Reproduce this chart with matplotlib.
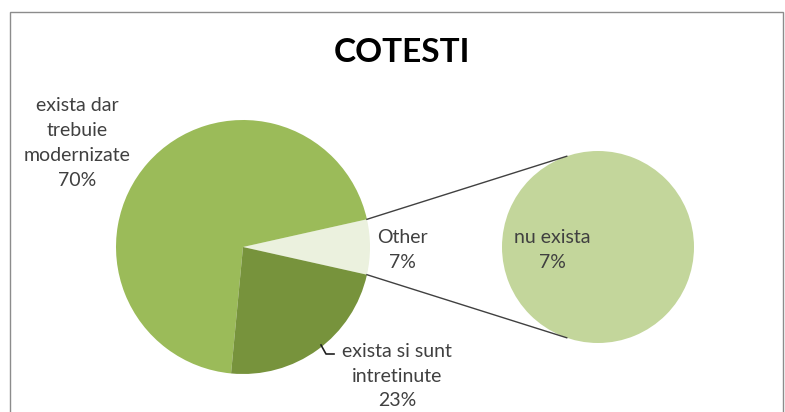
import numpy as np
import matplotlib.pyplot as plt
from matplotlib.patches import Rectangle

plt.rcParams['font.family'] = ['Lato', 'DejaVu Sans']

# main pie (order: Other first, drawn counter-clockwise from the right)
main_labels = ['Other\n7%', 'exista dar\ntrebuie\nmodernizate\n70%', 'exista si sunt\nintretinute\n23%']
main_values = [7, 70, 23]
main_colors = ['#EBF1DE', '#9BBB59', '#77933C']

# secondary pie (breakdown of "Other")
sec_labels = ['nu exista\n7%']
sec_values = [7]
sec_colors = ['#C3D69B']

W, H = 785, 412
fig = plt.figure(figsize=(W / 100, H / 100), dpi=100)
ax = fig.add_axes([0, 0, 1, 1])

# chart frame
ax.add_patch(Rectangle((10, -20), 773, H - 12 + 20, fill=False, edgecolor='#8c8c8c', lw=1))

c1, r1 = (243, H - 247), 127
c2, r2 = (598, H - 247), 96
other_half = main_values[0] / sum(main_values) * 360 / 2

ax.pie(main_values, colors=main_colors, startangle=-other_half, counterclock=True,
       center=c1, radius=r1, wedgeprops=dict(linewidth=0), frame=True)
ax.pie(sec_values, colors=sec_colors, startangle=90, center=c2, radius=r2,
       wedgeprops=dict(linewidth=0), frame=True)
ax.set_xlim(0, W)
ax.set_ylim(0, H)
ax.set_aspect('equal')
ax.axis('off')

# connector lines
for sgn in (1, -1):
    a1 = np.radians(sgn * other_half)
    a2 = np.radians(sgn * 109)
    ax.plot([c1[0] + r1 * np.cos(a1), c2[0] + r2 * np.cos(a2)],
            [c1[1] + r1 * np.sin(a1), c2[1] + r2 * np.sin(a2)],
            color='#404040', lw=1)

# leader for the 23% label
ax.plot([321, 326, 334], [H - 345, H - 354, H - 354], color='#202020', lw=1.2)

txt = dict(ha='center', va='center', fontsize=14, color='#404040', linespacing=1.55)
ax.text(77, H - 143, main_labels[1], **txt)
ax.text(402, H - 250, main_labels[0], **txt)
ax.text(397, H - 376, main_labels[2], **txt)
ax.text(552, H - 250, sec_labels[0], **txt)

ax.text(402, H - 52, 'COTESTI', ha='center', va='center', fontsize=24,
        fontweight='bold', color='black')

fig.savefig('out.png', dpi=100)
